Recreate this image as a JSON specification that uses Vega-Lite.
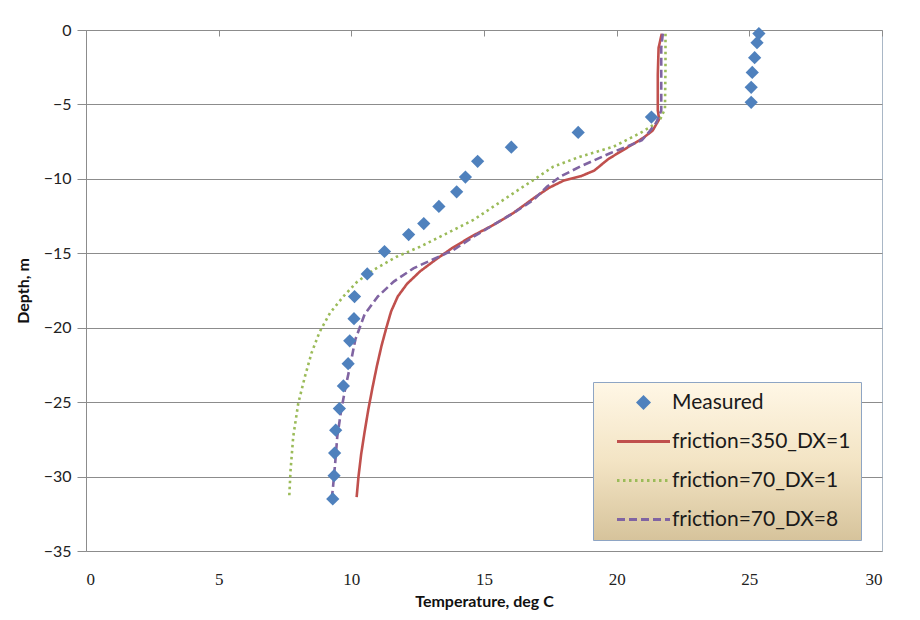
{
  "$schema": "https://vega.github.io/schema/vega-lite/v6.json",
  "width": 796,
  "height": 521,
  "autosize": {"type": "none"},
  "padding": {"left": 86, "top": 30, "right": 38, "bottom": 69},
  "background": "white",
  "data": {"values": [
    {"series": "Measured", "T": 25.36, "D": -0.24},
    {"series": "Measured", "T": 25.29, "D": -0.85},
    {"series": "Measured", "T": 25.2, "D": -1.86},
    {"series": "Measured", "T": 25.11, "D": -2.85},
    {"series": "Measured", "T": 25.07, "D": -3.85},
    {"series": "Measured", "T": 25.07, "D": -4.86},
    {"series": "Measured", "T": 21.31, "D": -5.85},
    {"series": "Measured", "T": 18.55, "D": -6.88},
    {"series": "Measured", "T": 16.03, "D": -7.87},
    {"series": "Measured", "T": 14.76, "D": -8.82},
    {"series": "Measured", "T": 14.3, "D": -9.88},
    {"series": "Measured", "T": 13.97, "D": -10.87},
    {"series": "Measured", "T": 13.3, "D": -11.85},
    {"series": "Measured", "T": 12.73, "D": -13.0},
    {"series": "Measured", "T": 12.16, "D": -13.74},
    {"series": "Measured", "T": 11.25, "D": -14.88},
    {"series": "Measured", "T": 10.6, "D": -16.39},
    {"series": "Measured", "T": 10.12, "D": -17.91},
    {"series": "Measured", "T": 10.1, "D": -19.39},
    {"series": "Measured", "T": 9.94, "D": -20.88},
    {"series": "Measured", "T": 9.88, "D": -22.42},
    {"series": "Measured", "T": 9.7, "D": -23.91},
    {"series": "Measured", "T": 9.55, "D": -25.43},
    {"series": "Measured", "T": 9.41, "D": -26.88},
    {"series": "Measured", "T": 9.37, "D": -28.42},
    {"series": "Measured", "T": 9.35, "D": -29.94},
    {"series": "Measured", "T": 9.3, "D": -31.5},

    {"series": "friction=350_DX=1", "T": 21.7, "D": -0.25},
    {"series": "friction=350_DX=1", "T": 21.58, "D": -1.2},
    {"series": "friction=350_DX=1", "T": 21.55, "D": -3.0},
    {"series": "friction=350_DX=1", "T": 21.55, "D": -5.4},
    {"series": "friction=350_DX=1", "T": 21.6, "D": -6.0},
    {"series": "friction=350_DX=1", "T": 21.36, "D": -6.75},
    {"series": "friction=350_DX=1", "T": 21.0, "D": -7.25},
    {"series": "friction=350_DX=1", "T": 20.4, "D": -7.9},
    {"series": "friction=350_DX=1", "T": 19.7, "D": -8.65},
    {"series": "friction=350_DX=1", "T": 19.15, "D": -9.45},
    {"series": "friction=350_DX=1", "T": 18.65, "D": -9.82},
    {"series": "friction=350_DX=1", "T": 18.0, "D": -10.12},
    {"series": "friction=350_DX=1", "T": 17.45, "D": -10.6},
    {"series": "friction=350_DX=1", "T": 16.95, "D": -11.2},
    {"series": "friction=350_DX=1", "T": 16.1, "D": -12.3},
    {"series": "friction=350_DX=1", "T": 15.35, "D": -13.1},
    {"series": "friction=350_DX=1", "T": 14.55, "D": -13.85},
    {"series": "friction=350_DX=1", "T": 13.8, "D": -14.65},
    {"series": "friction=350_DX=1", "T": 13.2, "D": -15.4},
    {"series": "friction=350_DX=1", "T": 12.6, "D": -16.2},
    {"series": "friction=350_DX=1", "T": 12.1, "D": -17.05},
    {"series": "friction=350_DX=1", "T": 11.75, "D": -17.9},
    {"series": "friction=350_DX=1", "T": 11.5, "D": -18.9},
    {"series": "friction=350_DX=1", "T": 11.32, "D": -20.0},
    {"series": "friction=350_DX=1", "T": 11.14, "D": -21.2},
    {"series": "friction=350_DX=1", "T": 10.96, "D": -22.6},
    {"series": "friction=350_DX=1", "T": 10.8, "D": -24.0},
    {"series": "friction=350_DX=1", "T": 10.64, "D": -25.5},
    {"series": "friction=350_DX=1", "T": 10.5, "D": -27.0},
    {"series": "friction=350_DX=1", "T": 10.37, "D": -28.5},
    {"series": "friction=350_DX=1", "T": 10.27, "D": -30.0},
    {"series": "friction=350_DX=1", "T": 10.2, "D": -31.38},

    {"series": "friction=70_DX=1", "T": 21.84, "D": -0.25},
    {"series": "friction=70_DX=1", "T": 21.84, "D": -2.5},
    {"series": "friction=70_DX=1", "T": 21.82, "D": -5.3},
    {"series": "friction=70_DX=1", "T": 21.64, "D": -6.0},
    {"series": "friction=70_DX=1", "T": 21.3, "D": -6.48},
    {"series": "friction=70_DX=1", "T": 20.87, "D": -6.94},
    {"series": "friction=70_DX=1", "T": 19.88, "D": -7.84},
    {"series": "friction=70_DX=1", "T": 18.62, "D": -8.51},
    {"series": "friction=70_DX=1", "T": 17.61, "D": -9.18},
    {"series": "friction=70_DX=1", "T": 16.86, "D": -10.08},
    {"series": "friction=70_DX=1", "T": 16.1, "D": -10.97},
    {"series": "friction=70_DX=1", "T": 15.35, "D": -11.87},
    {"series": "friction=70_DX=1", "T": 14.6, "D": -12.76},
    {"series": "friction=70_DX=1", "T": 13.6, "D": -13.66},
    {"series": "friction=70_DX=1", "T": 12.59, "D": -14.56},
    {"series": "friction=70_DX=1", "T": 11.71, "D": -15.23},
    {"series": "friction=70_DX=1", "T": 10.83, "D": -16.12},
    {"series": "friction=70_DX=1", "T": 10.2, "D": -16.95},
    {"series": "friction=70_DX=1", "T": 9.7, "D": -17.9},
    {"series": "friction=70_DX=1", "T": 9.2, "D": -19.0},
    {"series": "friction=70_DX=1", "T": 8.8, "D": -20.3},
    {"series": "friction=70_DX=1", "T": 8.5, "D": -21.7},
    {"series": "friction=70_DX=1", "T": 8.25, "D": -23.29},
    {"series": "friction=70_DX=1", "T": 8.0, "D": -25.08},
    {"series": "friction=70_DX=1", "T": 7.81, "D": -27.32},
    {"series": "friction=70_DX=1", "T": 7.71, "D": -29.56},
    {"series": "friction=70_DX=1", "T": 7.66, "D": -31.35},

    {"series": "friction=70_DX=8", "T": 21.74, "D": -0.25},
    {"series": "friction=70_DX=8", "T": 21.68, "D": -1.2},
    {"series": "friction=70_DX=8", "T": 21.68, "D": -3.0},
    {"series": "friction=70_DX=8", "T": 21.68, "D": -5.4},
    {"series": "friction=70_DX=8", "T": 21.5, "D": -6.2},
    {"series": "friction=70_DX=8", "T": 21.2, "D": -6.9},
    {"series": "friction=70_DX=8", "T": 20.95, "D": -7.4},
    {"series": "friction=70_DX=8", "T": 20.38, "D": -7.84},
    {"series": "friction=70_DX=8", "T": 19.75, "D": -8.28},
    {"series": "friction=70_DX=8", "T": 18.62, "D": -9.18},
    {"series": "friction=70_DX=8", "T": 17.87, "D": -9.85},
    {"series": "friction=70_DX=8", "T": 17.37, "D": -10.53},
    {"series": "friction=70_DX=8", "T": 16.86, "D": -11.42},
    {"series": "friction=70_DX=8", "T": 16.1, "D": -12.31},
    {"series": "friction=70_DX=8", "T": 15.35, "D": -13.1},
    {"series": "friction=70_DX=8", "T": 14.6, "D": -13.89},
    {"series": "friction=70_DX=8", "T": 13.85, "D": -14.78},
    {"series": "friction=70_DX=8", "T": 13.09, "D": -15.4},
    {"series": "friction=70_DX=8", "T": 12.34, "D": -16.01},
    {"series": "friction=70_DX=8", "T": 11.6, "D": -16.9},
    {"series": "friction=70_DX=8", "T": 11.0, "D": -17.9},
    {"series": "friction=70_DX=8", "T": 10.5, "D": -19.1},
    {"series": "friction=70_DX=8", "T": 10.15, "D": -20.8},
    {"series": "friction=70_DX=8", "T": 9.95, "D": -22.6},
    {"series": "friction=70_DX=8", "T": 9.76, "D": -24.18},
    {"series": "friction=70_DX=8", "T": 9.6, "D": -25.75},
    {"series": "friction=70_DX=8", "T": 9.47, "D": -27.32},
    {"series": "friction=70_DX=8", "T": 9.39, "D": -29.11},
    {"series": "friction=70_DX=8", "T": 9.3, "D": -30.9},
    {"series": "friction=70_DX=8", "T": 9.26, "D": -31.4}
  ]},
  "layer": [
    {
      "transform": [{"filter": "datum.series !== 'Measured'"}],
      "mark": {"type": "line", "strokeWidth": 2.6},
      "encoding": {
        "x": {"field": "T", "type": "quantitative",
          "scale": {"domain": [0, 30], "nice": false},
          "axis": {"orient": "bottom", "title": "Temperature, deg C", "values": [0, 5, 10, 15, 20, 25, 30],
            "ticks": false, "domain": false, "grid": false, "labelPadding": 20,
            "labelFont": "Liberation Serif", "labelFontSize": 17, "labelColor": "#222",
            "titleFont": "Lato", "titleFontSize": 16, "titleFontWeight": "bold", "titleColor": "#111", "titlePadding": 6}},
        "y": {"field": "D", "type": "quantitative",
          "scale": {"domain": [-35, 0], "nice": false},
          "axis": {"title": "Depth, m", "values": [0, -5, -10, -15, -20, -25, -30, -35],
            "grid": true, "gridColor": "#8C8C8C", "gridWidth": 1,
            "domainColor": "#8C8C8C", "tickColor": "#8C8C8C", "tickSize": 9, "labelPadding": 6,
            "labelFont": "Lato", "labelFontSize": 16, "labelColor": "#222",
            "titleFont": "Lato", "titleFontSize": 16, "titleFontWeight": "bold", "titleColor": "#111", "titlePadding": 12}},
        "order": {"field": "D", "sort": "descending"},
        "color": {"field": "series", "type": "nominal",
          "scale": {"domain": ["Measured", "friction=350_DX=1", "friction=70_DX=1", "friction=70_DX=8"],
                    "range": ["#4F81BD", "#C0504D", "#9BBB59", "#8064A2"]},
          "legend": {
            "title": null, "orient": "none", "legendX": 507, "legendY": 352, "direction": "vertical",
            "padding": 10, "rowPadding": 17, "symbolSize": 400, "symbolOffset": 30, "labelOffset": 18,
            "labelFont": "Lato", "labelFontSize": 21, "labelColor": "#1a1a1a", "labelLimit": 400,
            "strokeColor": "#8EA5C4", "fillColor": "#F3E4C4",
            "labelExpr": "datum.label + '           '",
            "encode": {
              "legend": {"update": {"fill": {"value": {"gradient": "linear", "x1": 0, "y1": 0, "x2": 0, "y2": 1,
                "stops": [{"offset": 0, "color": "#FFF7E6"}, {"offset": 0.5, "color": "#F3E4C4"}, {"offset": 1, "color": "#D6C39B"}]}}}},
              "symbols": {"update": {
                "shape": {"signal": "datum.value === 'Measured' ? 'M-0.75,0L0,-0.75L0.75,0L0,0.75Z' : 'M-2.65,0L2.65,0'"},
                "fill": {"signal": "datum.value === 'Measured' ? '#4F81BD' : 'transparent'"},
                "stroke": {"signal": "datum.value === 'Measured' ? '#4F81BD' : datum.value === 'friction=350_DX=1' ? '#C0504D' : datum.value === 'friction=70_DX=1' ? '#9BBB59' : '#8064A2'"},
                "strokeWidth": {"signal": "datum.value === 'Measured' ? 0 : 3"},
                "strokeDash": {"signal": "datum.value === 'friction=70_DX=1' ? [2.5, 3.5] : datum.value === 'friction=70_DX=8' ? [8, 4] : [1, 0]"},
                "opacity": {"value": 1},
                "fillOpacity": {"value": 1},
                "strokeOpacity": {"value": 1}
              }}
            }
          }},
        "strokeDash": {"field": "series", "type": "nominal",
          "scale": {"domain": ["friction=350_DX=1", "friction=70_DX=1", "friction=70_DX=8"],
                    "range": [[1, 0], [2.5, 3.5], [8, 4]]},
          "legend": null}
      }
    },
    {
      "transform": [{"filter": "datum.series === 'Measured'"}],
      "mark": {"type": "point", "shape": "diamond", "filled": true, "size": 175, "opacity": 1},
      "encoding": {
        "x": {"field": "T", "type": "quantitative",
          "scale": {"domain": [0, 30], "nice": false},
          "axis": {"orient": "top", "title": null, "labels": false, "values": [0, 5, 10, 15, 20, 25, 30],
            "ticks": true, "tickSize": -6, "tickColor": "#8C8C8C", "domain": false, "grid": false}},
        "y": {"field": "D", "type": "quantitative",
          "scale": {"domain": [-35, 0], "nice": false},
          "axis": {"title": "Depth, m", "values": [0, -5, -10, -15, -20, -25, -30, -35]}},
        "color": {"field": "series", "type": "nominal"}
      }
    }
  ],
  "resolve": {"axis": {"x": "independent"}},
  "config": {
    "view": {"stroke": "#A9B7C6", "strokeWidth": 1},
    "axis": {"labelFont": "Lato"}
  }
}
